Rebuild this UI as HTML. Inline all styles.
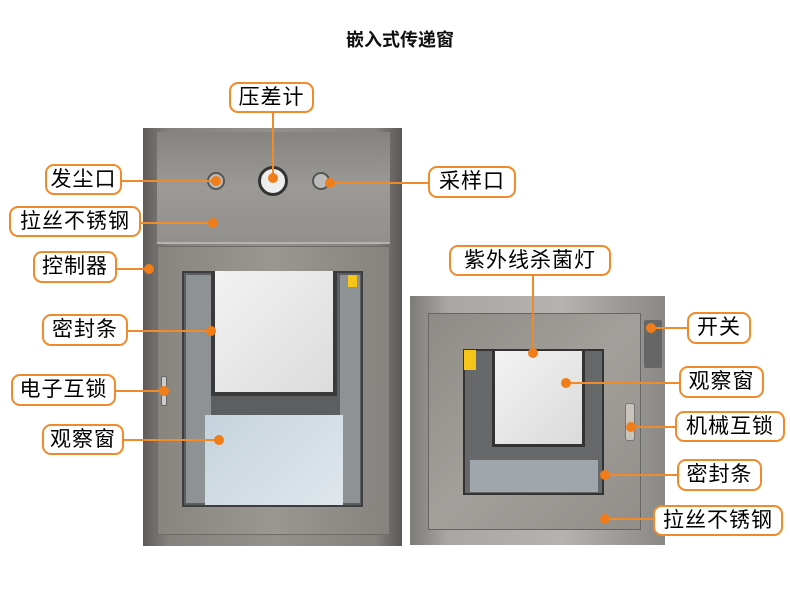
<!DOCTYPE html>
<html><head><meta charset="utf-8"><style>
body{margin:0;width:790px;height:597px;background:#fff;position:relative;overflow:hidden;font-family:"Liberation Sans","Noto Sans CJK SC",sans-serif}
div{position:absolute;box-sizing:border-box}
.lb{border:2px solid #f08a2a;border-radius:9px;background:#fff;color:#000;font-size:21px;line-height:27px;text-align:center;letter-spacing:1px;white-space:nowrap}
.h{height:2px;background:#f08a2a}
.v{width:2px;background:#f08a2a}
.d{width:10px;height:10px;border-radius:50%;background:#f07d1a}
</style></head><body>
<div style="left:300px;top:26px;width:200px;text-align:center;font-size:18px;font-weight:bold;color:#111">嵌入式传递窗</div>

<!-- left cabinet -->
<div style="left:143px;top:128px;width:259px;height:418px;background:linear-gradient(90deg,#5e5c5a,#85827e 10%,#94918d 50%,#85827e 90%,#5a5856);"></div>
<div style="left:157px;top:132px;width:233px;height:112px;background:linear-gradient(180deg,#858380,#9c9a96 50%,#92908c);border-bottom:2px solid #b5b3af"></div>
<div style="left:157px;top:246px;width:233px;height:289px;background:linear-gradient(90deg,#88857f,#9a9792 50%,#86837f);border:1px solid #6f6c68"></div>
<div style="left:182px;top:271px;width:181px;height:236px;background:#5d5e60;border:2px solid #3d3d3f"></div>
<div style="left:186px;top:275px;width:25px;height:228px;background:#8e9294"></div>
<div style="left:340px;top:275px;width:20px;height:228px;background:#8e9294"></div>
<div style="left:211px;top:271px;width:126px;height:125px;background:linear-gradient(135deg,#f2f2f2,#dcdcdc);border:4px solid #3a3a3a;border-top:0"></div>
<div style="left:205px;top:415px;width:138px;height:90px;background:linear-gradient(135deg,#c6d3dc,#dfe7ec)"></div>
<div style="left:258px;top:166px;width:30px;height:30px;border-radius:50%;background:#eee;border:3px solid #333"></div>
<div style="left:207px;top:172px;width:18px;height:18px;border-radius:50%;border:2px solid #555;background:#bbb"></div>
<div style="left:312px;top:172px;width:18px;height:18px;border-radius:50%;border:2px solid #555;background:#bbb"></div>
<div style="left:161px;top:376px;width:6px;height:30px;background:#ccc;border:1px solid #666;border-radius:2px"></div>
<div style="left:348px;top:275px;width:9px;height:12px;background:#f5c518"></div>

<!-- right cabinet -->
<div style="left:410px;top:296px;width:255px;height:249px;background:linear-gradient(90deg,#7d7b78,#a9a7a3 15%,#b5b3b0 60%,#8a8885);"></div>
<div style="left:428px;top:313px;width:213px;height:217px;background:linear-gradient(135deg,#8e8b87,#a3a09c 50%,#918e8a);border:1px solid #666"></div>
<div style="left:644px;top:320px;width:18px;height:48px;background:#666;border-radius:2px"></div>
<div style="left:463px;top:349px;width:141px;height:146px;background:#66686a;border:2px solid #333"></div>
<div style="left:492px;top:351px;width:93px;height:96px;background:linear-gradient(135deg,#f3f3f3,#dadada);border:3px solid #333;border-top:0"></div>
<div style="left:470px;top:460px;width:128px;height:32px;background:#9fa7ad"></div>
<div style="left:464px;top:350px;width:12px;height:20px;background:#f5c518"></div>
<div style="left:625px;top:403px;width:10px;height:38px;background:#c8c4bc;border:1px solid #777;border-radius:3px"></div>

<!-- connectors -->
<div class="v" style="left:272px;top:113px;height:65px"></div>
<div class="h" style="left:122px;top:180px;width:95px"></div>
<div class="h" style="left:330px;top:182px;width:98px"></div>
<div class="h" style="left:141px;top:222px;width:73px"></div>
<div class="h" style="left:117px;top:268px;width:33px"></div>
<div class="h" style="left:128px;top:330px;width:84px"></div>
<div class="h" style="left:116px;top:390px;width:49px"></div>
<div class="h" style="left:124px;top:439px;width:96px"></div>
<div class="v" style="left:532px;top:276px;height:77px"></div>
<div class="h" style="left:651px;top:327px;width:36px"></div>
<div class="h" style="left:566px;top:382px;width:113px"></div>
<div class="h" style="left:631px;top:426px;width:44px"></div>
<div class="h" style="left:605px;top:474px;width:72px"></div>
<div class="h" style="left:605px;top:518px;width:48px"></div>

<div class="d" style="left:268px;top:173px"></div>
<div class="d" style="left:211px;top:176px"></div>
<div class="d" style="left:325px;top:178px"></div>
<div class="d" style="left:208px;top:218px"></div>
<div class="d" style="left:144px;top:264px"></div>
<div class="d" style="left:206px;top:326px"></div>
<div class="d" style="left:159px;top:386px"></div>
<div class="d" style="left:214px;top:435px"></div>
<div class="d" style="left:528px;top:348px"></div>
<div class="d" style="left:646px;top:323px"></div>
<div class="d" style="left:561px;top:378px"></div>
<div class="d" style="left:626px;top:422px"></div>
<div class="d" style="left:600px;top:470px"></div>
<div class="d" style="left:600px;top:514px"></div>

<!-- labels -->
<div class="lb" style="left:229px;top:82px;width:85px;height:31px">压差计</div>
<div class="lb" style="left:45px;top:164px;width:77px;height:31px">发尘口</div>
<div class="lb" style="left:428px;top:166px;width:88px;height:32px">采样口</div>
<div class="lb" style="left:9px;top:206px;width:132px;height:31px">拉丝不锈钢</div>
<div class="lb" style="left:33px;top:251px;width:84px;height:32px">控制器</div>
<div class="lb" style="left:42px;top:314px;width:86px;height:32px">密封条</div>
<div class="lb" style="left:11px;top:374px;width:105px;height:32px">电子互锁</div>
<div class="lb" style="left:42px;top:424px;width:82px;height:31px">观察窗</div>
<div class="lb" style="left:449px;top:245px;width:162px;height:31px">紫外线杀菌灯</div>
<div class="lb" style="left:687px;top:312px;width:64px;height:32px">开关</div>
<div class="lb" style="left:679px;top:366px;width:85px;height:32px">观察窗</div>
<div class="lb" style="left:675px;top:411px;width:110px;height:31px">机械互锁</div>
<div class="lb" style="left:677px;top:459px;width:85px;height:32px">密封条</div>
<div class="lb" style="left:653px;top:505px;width:130px;height:31px">拉丝不锈钢</div>
</body></html>
